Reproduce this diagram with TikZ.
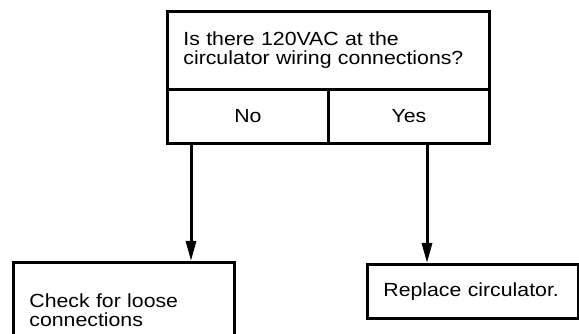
\documentclass[tikz,border=0pt]{standalone}
\usepackage{fontspec}
\setmainfont{Liberation Sans}[FakeStretch=1.12]
\usetikzlibrary{arrows.meta}
\begin{document}
\begin{tikzpicture}[x=1pt,y=-1pt,
  box/.style={draw, line width=2.8pt, inner sep=0pt, anchor=north west},
  conn/.style={line width=3pt, -{Triangle[length=20pt,width=10pt]}},
  font=\fontsize{19}{19}\selectfont]
\useasboundingbox (0,0) rectangle (579,334);
\clip (0,0) rectangle (579,334);
\node[box, minimum width=322pt, minimum height=78pt, align=left, text width=290pt] (q) at (166,10) {Is there 120VAC at the\\circulator wiring connections?};
\node[box, minimum width=161pt, minimum height=54pt] (no) at (166,88) {No};
\node[box, minimum width=161pt, minimum height=54pt] (yes) at (327,88) {Yes};
\node[box, minimum width=221pt, minimum height=95pt, align=left, text width=189pt] (loose) at (12,261) {Check for loose\\connections};
\node[box, minimum width=211pt, minimum height=54pt, align=left, text width=179pt] (repl) at (366,263) {Replace circulator.};
\coordinate (nx) at (191,0);
\coordinate (yx) at (427,0);
\draw[conn] (no.south -| nx) -- (loose.north -| nx);
\draw[conn] (yes.south -| yx) -- (repl.north -| yx);
\end{tikzpicture}
\end{document}
